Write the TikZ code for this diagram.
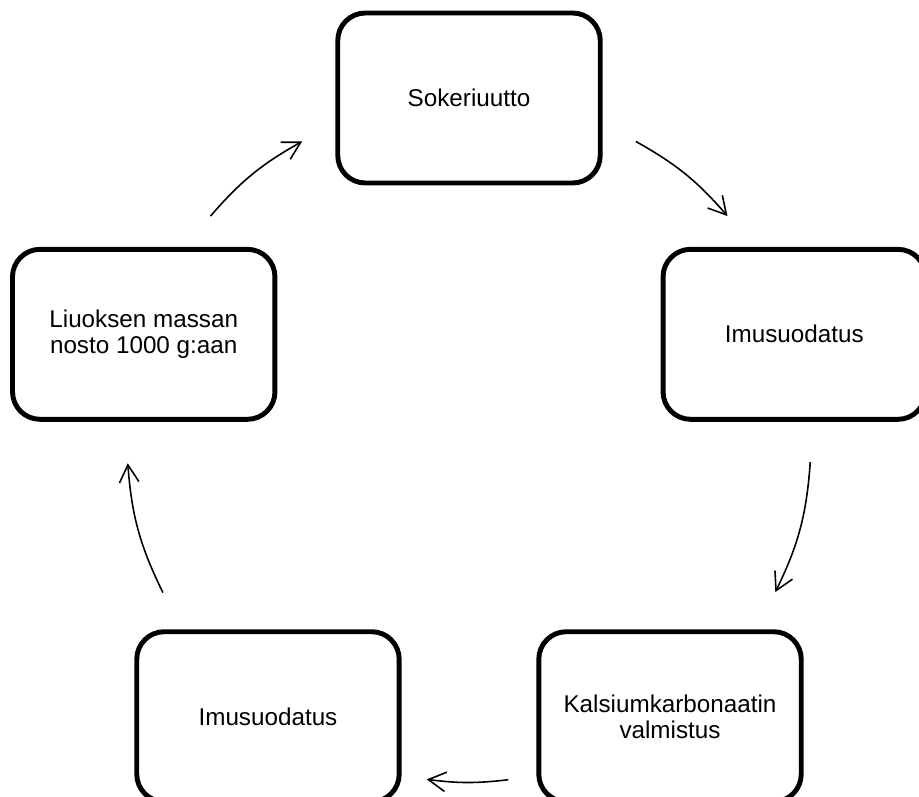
\documentclass[tikz,border=0pt]{standalone}
\usepackage{fontspec}
\setmainfont{Liberation Sans}
\usetikzlibrary{arrows.meta}

\begin{document}
\begin{tikzpicture}[
  x=0.02cm,y=0.02cm,
  blk/.style={rectangle,rounded corners=0.55cm,draw=black,line width=2.8pt,minimum width=5.25cm,
              minimum height=3.4cm,align=center,font=\fontsize{13.8}{14.4}\selectfont},
  arr/.style={-{Straight Barb[length=3.5mm,width=3.9mm]},line width=0.9pt,black}
]
\useasboundingbox (-469,-356) rectangle (450,440);
\node[blk] (s) at (90:342) {Sokeriuutto};
\node[blk] (i1) at (18:342) {Imusuodatus};
\node[blk] (k) at (-54:342) {Kalsiumkarbonaatin\\ valmistus};
\node[blk] (i2) at (-126:342) {Imusuodatus};
\node[blk] (l) at (162:342) {Liuoksen massan\\ nosto 1000 g:aan};
% arc ends on the circle
\coordinate (a1) at (60.8:342); \coordinate (b1) at (40.9:342);
\coordinate (a2) at (-3.7:342); \coordinate (b2) at (-26.4:342);
\coordinate (a3) at (-83.4:342); \coordinate (b3) at (-97.1:342);
\coordinate (a4) at (206.5:342); \coordinate (b4) at (183.9:342);
\coordinate (a5) at (139.1:342); \coordinate (b5) at (119.2:342);
\draw[arr] (a1) to[bend left=10] (b1);
\draw[arr] (a2) to[bend left=11] (b2);
\draw[arr] (a3) to[bend left=7] (b3);
\draw[arr] (a4) to[bend left=11] (b4);
\draw[arr] (a5) to[bend left=10] (b5);
\end{tikzpicture}
\end{document}
